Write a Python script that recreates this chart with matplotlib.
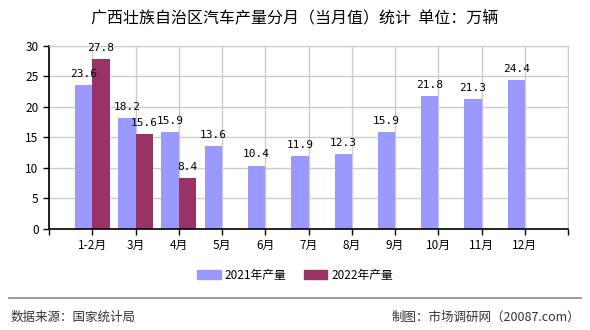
import numpy as np
import matplotlib
matplotlib.use('Agg')
import matplotlib.pyplot as plt
from matplotlib.patches import Patch

plt.rcParams['font.family'] = ['Noto Sans CJK SC', 'DejaVu Sans']

months = ['1-2月', '3月', '4月', '5月', '6月', '7月', '8月', '9月', '10月', '11月', '12月']
prod_2021 = [23.6, 18.2, 15.9, 13.6, 10.4, 11.9, 12.3, 15.9, 21.8, 21.3, 24.4]
prod_2022 = [27.8, 15.6, 8.4]

c2021 = '#9999ff'
c2022 = '#993366'

fig = plt.figure(figsize=(5.9, 3.3), dpi=100)
ax = fig.add_axes([0.083, 0.306, 0.880, 0.555])

x = np.arange(1, len(months) + 1)
w = 0.4
b1 = ax.bar(x - w / 2, prod_2021, w, color=c2021, zorder=2)
x2 = x[:len(prod_2022)]
b2 = ax.bar(x2 + w / 2, prod_2022, w, color=c2022, zorder=2)

for rect, v in zip(b1, prod_2021):
    ax.text(rect.get_x() + rect.get_width() / 2, v + 1.0, '%.1f' % v,
            ha='center', va='bottom', fontsize=8, family='DejaVu Sans Mono')
for rect, v in zip(b2, prod_2022):
    ax.text(rect.get_x() + rect.get_width() / 2, v + 1.0, '%.1f' % v,
            ha='center', va='bottom', fontsize=8, family='DejaVu Sans Mono')

ax.set_xlim(0, len(months) + 1)
ax.set_ylim(0, 30)
ax.set_yticks(range(0, 31, 5))
ax.set_xticks(range(0, len(months) + 2))
ax.set_xticklabels([''] + months + [''], fontsize=8.5)
ax.tick_params(axis='y', labelsize=8.5, length=4, width=1)
ax.tick_params(axis='x', length=4, width=1)
ax.grid(True, color='#cccccc', linewidth=1, zorder=0)
ax.spines['top'].set_color('#cccccc')
ax.spines['right'].set_color('#cccccc')
ax.spines['left'].set_linewidth(1.2)
ax.spines['bottom'].set_linewidth(1.2)

fig.text(0.5, 0.945, '广西壮族自治区汽车产量分月（当月值）统计  单位：万辆',
         ha='center', va='center', fontsize=11.5)

handles = [Patch(color=c2021, label='2021年产量'), Patch(color=c2022, label='2022年产量')]
fig.legend(handles=handles, loc='center', bbox_to_anchor=(0.5, 0.165), ncol=2,
           frameon=False, fontsize=8.5, handlelength=2.0, handleheight=0.8,
           columnspacing=1.5, handletextpad=0.3)

fig.add_artist(plt.Line2D([0.015, 0.985], [0.097, 0.097], color='#888888', linewidth=1.2))
fig.text(0.017, 0.04, '数据来源：国家统计局', fontsize=9, color='#333333', va='center')
fig.text(0.983, 0.04, '制图：市场调研网（20087.com）', fontsize=9, color='#333333',
         va='center', ha='right')

fig.savefig('out.png', dpi=100)
